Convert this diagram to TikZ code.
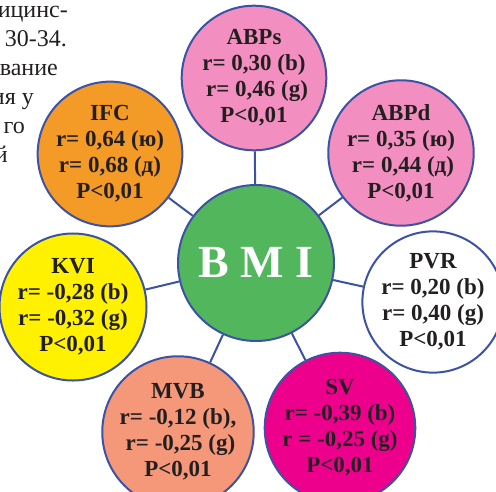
\documentclass[tikz,border=0pt]{standalone}
\usepackage{fontspec}
\setmainfont{Liberation Serif}
\usetikzlibrary{positioning}
\definecolor{cline}{RGB}{60,82,163}
\definecolor{ctext}{RGB}{35,31,32}
\definecolor{cgreen}{RGB}{82,183,92}
\definecolor{cpink}{RGB}{243,143,192}
\definecolor{corange}{RGB}{244,154,38}
\definecolor{cyellow}{RGB}{255,241,0}
\definecolor{csalmon}{RGB}{245,152,122}
\definecolor{cmagenta}{RGB}{236,0,140}

\begin{document}
\begin{tikzpicture}[
    x=1pt, y=-1pt,
    factor/.style={circle, draw=cline, line width=2pt, minimum size=134pt, inner sep=0pt, fill=#1, text=ctext, align=center, font=\fontsize{23}{26}\selectfont\bfseries},
    factor/.default=white,
    link/.style={cline, line width=2pt},
    page/.style={anchor=base east, inner sep=0pt, text=ctext, font=\fontsize{24}{29}\selectfont}
]
\useasboundingbox (0,0) rectangle (496,491);

%% text of the page, cut on the left
\node[page] (t1) at (68,17) {ицинс-};
\node[page] (t2) at (67,46) {30-34.};
\node[page] (t3) at (58,75) {вание};
\node[page] (t4) at (34,104) {ия у};
\node[page] (t5) at (25,133) {го};
\node[page] (t6) at (8,162) {й};

%% centre
\node[factor=cgreen, minimum size=156pt, text=white, font=\fontsize{46}{50}\selectfont\bfseries] (bmi) at (256,263) {B M I};

%% factors
\node[factor=cpink] (abps) at (254,78) {ABPs\\r= 0,30 (b)\\\hspace*{6pt}r= 0,46 (g)\\P<0,01};
\node[factor=cpink] (abpd) at (401,153) {ABPd\\r= 0,35 (ю)\\\hspace*{4pt}r= 0,44 (д)\\P<0,01};
\node[factor=corange] (ifc) at (110,154) {IFC\\r= 0,64 (ю)\\r= 0,68 (д)\\P<0,01};
\node[factor=cyellow] (kvi) at (73,307) {KVI\\r= -0,28 (b)\\r= -0,32 (g)\\P<0,01};
\node[factor] (pvr) at (433,302) {PVR\\r= 0,20 (b)\\r= 0,40 (g)\\P<0,01};
\node[factor=csalmon] (mvb) at (178,432) {MVB\\r= -0,12 (b),\\\hspace*{5pt}r= -0,25 (g)\\P<0,01};
\node[factor=cmagenta] (sv) at (340,428) {SV\\r= -0,39 (b)\\r = -0,25 (g)\\P<0,01};

%% links
\foreach \f in {abps, abpd, ifc, kvi, pvr, mvb, sv}
    \draw[link] (bmi) -- (\f);

\end{tikzpicture}
\end{document}
